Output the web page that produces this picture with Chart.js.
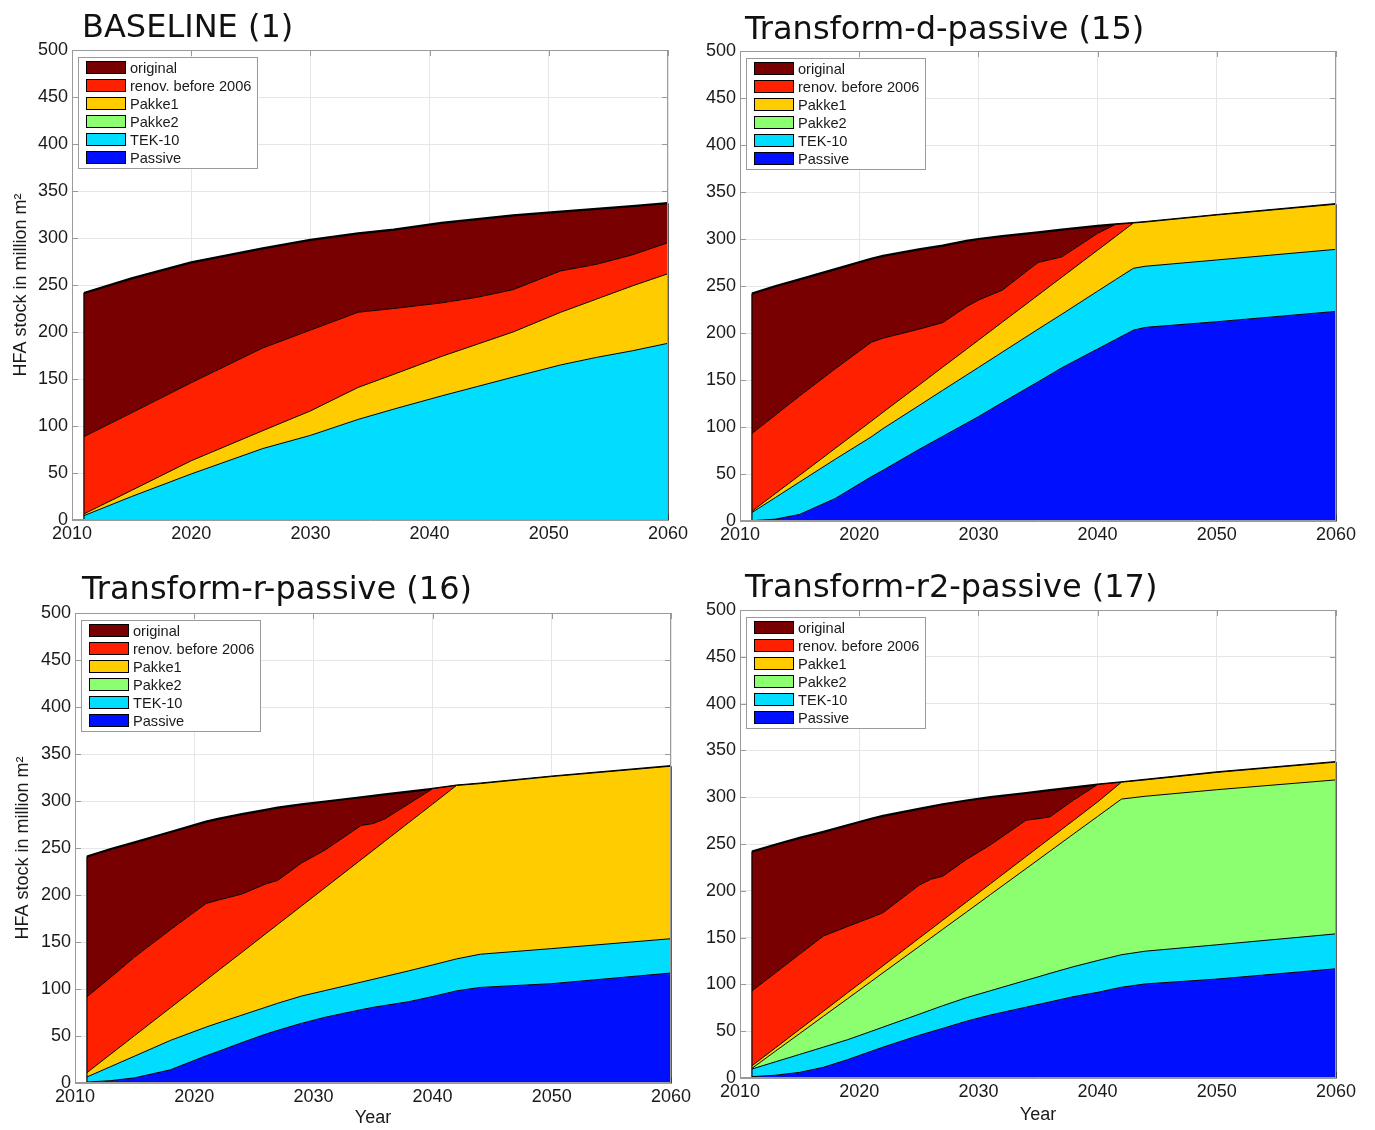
<!DOCTYPE html>
<html><head><meta charset="utf-8">
<script src="https://cdn.jsdelivr.net/npm/chart.js@4/dist/chart.umd.min.js"></script>
<style>
html,body{margin:0;padding:0;background:#fff;}
#wrap{position:relative;width:1375px;height:1130px;overflow:hidden;background:#fff;}
canvas{position:absolute;}
.ttl{position:absolute;font-family:"DejaVu Sans";font-size:32px;line-height:32px;color:#111;white-space:nowrap;}
</style></head><body>
<div id="wrap">
<canvas id="c1" width="700" height="560" style="left:0;top:0;width:700px;height:560px"></canvas>
<canvas id="c2" width="685" height="560" style="left:690px;top:0;width:685px;height:560px"></canvas>
<canvas id="c3" width="700" height="570" style="left:0;top:560px;width:700px;height:570px"></canvas>
<canvas id="c4" width="685" height="570" style="left:690px;top:560px;width:685px;height:570px"></canvas>
<div class="ttl" style="left:82px;top:10px">BASELINE (1)</div>
<div class="ttl" style="left:745px;top:12px">Transform-d-passive (15)</div>
<div class="ttl" style="left:82px;top:572px">Transform-r-passive (16)</div>
<div class="ttl" style="left:745px;top:570px">Transform-r2-passive (17)</div>
</div>
<script>
// ---------- data (million m², layer sizes) ----------
const seriesNames = ['original', 'renov. before 2006', 'Pakke1', 'Pakke2', 'TEK-10', 'Passive'];
const xTicks = [2010, 2020, 2030, 2040, 2050, 2060];
const yTicks = [0, 50, 100, 150, 200, 250, 300, 350, 400, 450, 500];

// BASELINE (1)
const years1    = [2011, 2015, 2020, 2026, 2030, 2034, 2037, 2041, 2044, 2047, 2051, 2054, 2057, 2060];
const original1 = [152.8, 143, 128, 106, 96, 84, 84, 85, 83, 79, 63, 59, 52, 42];
const renov1    = [82.3, 82.5, 83, 88, 86, 80, 70, 57, 50, 45, 44, 37, 33, 33];
const pakke1_1  = [1.8, 6.5, 14, 19, 26, 34, 37, 42, 45, 48, 56, 62, 69, 74];
const pakke2_1  = [0, 0, 0, 0, 0, 0, 0, 0, 0, 0, 0, 0, 0, 0];
const tek1      = [4.6, 25, 49, 76, 90, 107, 118, 132, 142, 152, 165, 173, 180, 188];
const passive1  = [0, 0, 0, 0, 0, 0, 0, 0, 0, 0, 0, 0, 0, 0];

// Transform-d-passive (15)
const years2    = [2011, 2013, 2015, 2018, 2021, 2022, 2025, 2027, 2029, 2030, 2032, 2035, 2037, 2040, 2041.5, 2043, 2044, 2050, 2060];
const original2 = [149, 137, 124, 106, 89, 87.5, 85, 82, 70, 65, 57.5, 32, 29, 8, 0, 0, 0, 0, 0];
const renov2    = [82.7, 83.5, 84.4, 84.6, 84, 78.8, 59.6, 47.4, 45.3, 42.7, 34, 34.8, 21.6, 17.9, 13, 0, 0, 0, 0];
const pakke1_2  = [1.3, 4.3, 7.1, 11.6, 16.6, 17.4, 21.7, 24.6, 27.5, 29, 31.9, 36.2, 39.4, 43.6, 45.8, 48.2, 47, 47.8, 48];
const pakke2_2  = [0, 0, 0, 0, 0, 0, 0, 0, 0, 0, 0, 0, 0, 0, 0, 0, 0, 0, 0];
const tek2      = [8.7, 23.2, 34.5, 41.8, 42.4, 44.3, 46.7, 49, 51.2, 52.3, 53.6, 56, 57, 61.5, 63.7, 65.8, 65, 65.7, 66];
const passive2  = [0.3, 2, 7, 24, 47, 54, 76, 90, 104, 111, 126, 148, 163, 183, 193, 203, 206, 212, 223];

// Transform-r-passive (16)
const years3    = [2011, 2013, 2015, 2018, 2021, 2022, 2024, 2026, 2027, 2029, 2031, 2034, 2035, 2036, 2038, 2040, 2042, 2044, 2050, 2060];
const original3 = [149.3, 136.5, 122, 104, 87, 86.5, 85, 78.7, 77.5, 62.5, 51.5, 30, 29.5, 26, 13, 0, 0, 0, 0, 0];
const renov3    = [80.7, 81.8, 83.6, 83, 81.5, 75.1, 62, 53, 46.9, 45.7, 40, 36.4, 28.6, 23.7, 20, 16.3, 0, 0, 0, 0];
const pakke1_3  = [4.6, 13.2, 21.8, 34.7, 50, 55.6, 66.8, 78.2, 83.8, 95.8, 109.6, 130.3, 137.1, 144, 157.7, 171.1, 184.5, 181.5, 183, 183.5];
const pakke2_3  = [0, 0, 0, 0, 0, 0, 0, 0, 0, 0, 0, 0, 0, 0, 0, 0, 0, 0, 0, 0];
const tek3      = [5.4, 15, 23.1, 31.3, 30.5, 30.3, 29.2, 28.6, 28.8, 29, 28.4, 29.3, 29.8, 30.8, 32.8, 33.6, 34, 35.3, 37.3, 36.5];
const passive3  = [1, 2.5, 5.5, 14, 29, 33.5, 43, 52, 56, 63.5, 70, 78, 80.5, 82.5, 86.5, 92, 98, 101.7, 105.7, 117];

// Transform-r2-passive (17)
const years4    = [2011, 2013, 2015, 2017, 2019, 2021, 2022, 2025, 2026, 2027, 2029, 2031, 2034, 2035, 2036, 2038, 2040, 2042, 2044, 2050, 2060];
const original4 = [149, 136.9, 124.3, 111.3, 108.3, 105.5, 103.4, 81.7, 77.7, 77, 63, 51, 29.1, 29, 28.5, 13.5, 0, 0, 0, 0, 0];
const renov4    = [80, 80.2, 80.3, 80.4, 70.9, 61.3, 56.7, 56.7, 53.5, 47, 45.5, 41.6, 38.8, 30.7, 23, 21.6, 18.6, 0, 0, 0, 0];
const pakke1_4  = [2.7, 3.5, 4.5, 5.3, 6.3, 7.1, 7.5, 8.9, 9.3, 9.7, 10.7, 11.5, 12.9, 13.3, 13.7, 14.5, 15.5, 18, 17.5, 18.5, 19];
const pakke2_4  = [0.7, 11.5, 22.2, 33, 43.7, 53.3, 58, 72.2, 76.9, 81.6, 91.5, 102.7, 119.3, 125, 130.5, 141.9, 153.9, 166.3, 165.5, 165.7, 164.5];
const tek4      = [8.2, 14.4, 19.2, 21.5, 21.3, 21.3, 21.4, 22.5, 23.3, 24.2, 25.1, 25.9, 28.7, 29.5, 30.5, 32, 34, 34.7, 35, 36.6, 37.3];
const passive4  = [1.4, 3, 6, 11.5, 19.5, 28.5, 33, 45.5, 49.3, 53, 60.7, 67.3, 75.7, 78.5, 81.3, 87, 91.5, 97, 100.5, 105.7, 116.7];

// ---------- styles ----------
const seriesColors = ['#780000', '#ff2000', '#ffcc00', '#8cff70', '#00ddff', '#0010ff'];
const FONT = 'Liberation Sans';
const TXT = '#1a1a1a';
const AXC = '#9a9a9a';

const panels = [
  {id:'c1', years:years1, series:[original1, renov1, pakke1_1, pakke2_1, tek1, passive1],
   yTitle:true, xTitle:false, padTop:50, padRight:32, yW:72, xH:40, yTitlePad:10, xTitlePad:0},
  {id:'c2', years:years2, series:[original2, renov2, pakke1_2, pakke2_2, tek2, passive2],
   yTitle:false, xTitle:false, padTop:51, padRight:39, yW:50, xH:39, yTitlePad:0, xTitlePad:0},
  {id:'c3', years:years3, series:[original3, renov3, pakke1_3, pakke2_3, tek3, passive3],
   yTitle:true, xTitle:true, padTop:53, padRight:29, yW:75, xH:47, yTitlePad:12, xTitlePad:1},
  {id:'c4', years:years4, series:[original4, renov4, pakke1_4, pakke2_4, tek4, passive4],
   yTitle:false, xTitle:true, padTop:50, padRight:39, yW:50, xH:52, yTitlePad:0, xTitlePad:4}
];

const decoPlugin = {
  id: 'deco',
  beforeDatasetsDraw(chart) {
    const {ctx, chartArea: ca, scales: {x, y}} = chart;
    ctx.save();
    ctx.strokeStyle = AXC; ctx.lineWidth = 1;
    ctx.beginPath();
    xTicks.forEach(t => {
      const px = Math.round(x.getPixelForValue(t)) + 0.5;
      ctx.moveTo(px, ca.bottom); ctx.lineTo(px, ca.bottom - 6);
      ctx.moveTo(px, ca.top); ctx.lineTo(px, ca.top + 6);
    });
    yTicks.forEach(t => {
      const py = Math.round(y.getPixelForValue(t)) + 0.5;
      ctx.moveTo(ca.left, py); ctx.lineTo(ca.left + 6, py);
      ctx.moveTo(ca.right, py); ctx.lineTo(ca.right - 6, py);
    });
    ctx.stroke();
    ctx.restore();
  },
  afterDatasetsDraw(chart) {
    const {ctx, chartArea: ca, scales: {y}} = chart;
    ctx.save();
    // patch side edges (first & last year) from the stacked top down to zero
    const topMeta = chart.getDatasetMeta(chart.data.datasets.length - 1);
    const y0 = y.getPixelForValue(0);
    ctx.strokeStyle = '#000'; ctx.lineWidth = 1.2;
    [topMeta.data[0], topMeta.data[topMeta.data.length - 1]].forEach(el => {
      ctx.beginPath(); ctx.moveTo(el.x, el.y); ctx.lineTo(el.x, y0); ctx.stroke();
    });
    // axes box
    ctx.strokeStyle = AXC; ctx.lineWidth = 1;
    ctx.strokeRect(Math.round(ca.left) + 0.5, Math.round(ca.top) + 0.5,
                   Math.round(ca.right - ca.left) - 1, Math.round(ca.bottom - ca.top) - 1);
    ctx.restore();
  },
  afterDraw(chart) {
    const {ctx, chartArea: ca} = chart;
    const x0 = Math.round(ca.left) + 6, y0 = Math.round(ca.top) + 7, w = 179, h = 111;
    ctx.save();
    ctx.fillStyle = '#fff'; ctx.fillRect(x0, y0, w, h);
    ctx.strokeStyle = AXC; ctx.lineWidth = 1; ctx.strokeRect(x0 + 0.5, y0 + 0.5, w, h);
    const ds = chart.data.datasets.slice().reverse();
    ctx.font = '14.6px "' + FONT + '"';
    ctx.textBaseline = 'middle';
    ds.forEach((d, i) => {
      const sy = y0 + 4 + i * 18;
      ctx.fillStyle = d.backgroundColor; ctx.fillRect(x0 + 8, sy, 40, 13);
      ctx.strokeStyle = '#000'; ctx.lineWidth = 1; ctx.strokeRect(x0 + 8.5, sy + 0.5, 39, 12);
      ctx.fillStyle = TXT; ctx.fillText(d.label, x0 + 52, sy + 7.5);
    });
    ctx.restore();
  }
};

function makeChart(p) {
  const datasets = [];
  for (let k = seriesNames.length - 1; k >= 0; k--) {
    const vals = p.series[k];
    const nonZero = vals.some(v => v > 0);
    datasets.push({
      label: seriesNames[k],
      data: p.years.map((yr, i) => ({x: yr, y: vals[i]})),
      backgroundColor: seriesColors[k],
      borderColor: '#000',
      borderWidth: nonZero ? (k === 0 ? 2.2 : 1) : 0,
      fill: datasets.length === 0 ? 'origin' : '-1',
      pointRadius: 0,
      pointHoverRadius: 0,
      tension: 0
    });
  }
  return new Chart(document.getElementById(p.id), {
    type: 'line',
    data: {datasets},
    plugins: [decoPlugin],
    options: {
      responsive: false, animation: false, devicePixelRatio: 1,
      events: [],
      layout: {padding: {left: 0, top: p.padTop, right: p.padRight, bottom: 0}},
      plugins: {legend: {display: false}, title: {display: false}, tooltip: {enabled: false}},
      scales: {
        x: {
          type: 'linear', min: 2010, max: 2060,
          afterBuildTicks: s => { s.ticks = xTicks.map(v => ({value: v})); },
          ticks: {color: TXT, font: {family: FONT, size: 18}, padding: 3, maxRotation: 0, autoSkip: false,
                  callback: v => String(v)},
          grid: {color: '#e6e6e6', drawTicks: false},
          border: {color: AXC},
          title: {display: p.xTitle, text: 'Year', color: TXT, font: {family: FONT, size: 18},
                  padding: {top: 0, bottom: p.xTitlePad}},
          afterFit: s => { s.height = p.xH; }
        },
        y: {
          stacked: true, min: 0, max: 500,
          afterBuildTicks: s => { s.ticks = yTicks.map(v => ({value: v})); },
          ticks: {color: TXT, font: {family: FONT, size: 18}, padding: 4, callback: v => String(v)},
          grid: {color: '#e6e6e6', drawTicks: false},
          border: {color: AXC},
          title: {display: p.yTitle, text: 'HFA stock in million m²', color: TXT, font: {family: FONT, size: 18},
                  padding: {top: p.yTitlePad, bottom: 0}},
          afterFit: s => { s.width = p.yW; }
        }
      }
    }
  });
}
panels.forEach(makeChart);
</script>
</body></html>
